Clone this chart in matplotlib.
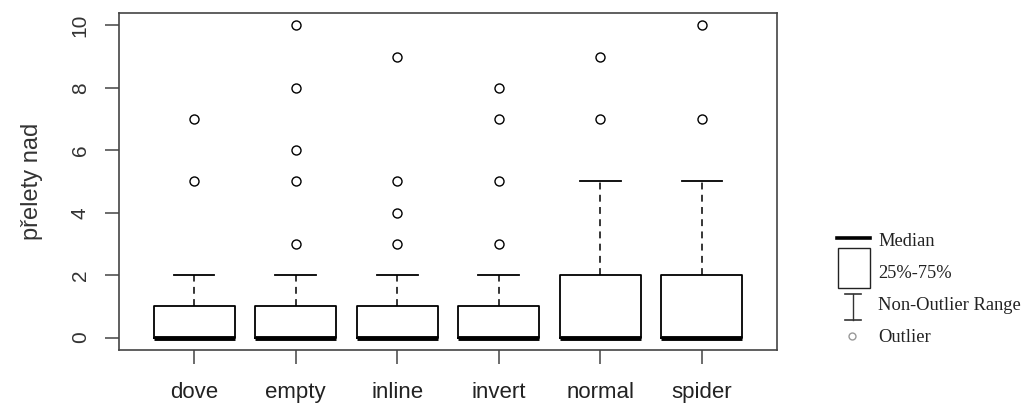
import matplotlib
matplotlib.use("Agg")
import matplotlib.pyplot as plt
from matplotlib.lines import Line2D
from matplotlib.patches import Rectangle

# summary statistics per group (R-style boxplot)
groups = ["dove", "empty", "inline", "invert", "normal", "spider"]
medians = [0, 0, 0, 0, 0, 0]
q1 = [0, 0, 0, 0, 0, 0]
q3 = [1, 1, 1, 1, 2, 2]
whisker_lo = [0, 0, 0, 0, 0, 0]
whisker_hi = [2, 2, 2, 2, 5, 5]
outliers = [
    [5, 7],
    [3, 5, 6, 8, 10],
    [3, 4, 5, 9],
    [3, 5, 7, 8],
    [7, 9],
    [7, 10],
]
y_ticks = [0, 2, 4, 6, 8, 10]

W, H = 1029, 408
fig = plt.figure(figsize=(W / 100, H / 100), dpi=100)
ax = fig.add_axes([119 / W, 1 - 350 / H, (777 - 119) / W, (350 - 13) / H])

stats = []
for i, g in enumerate(groups):
    stats.append(dict(label=g, med=medians[i], q1=q1[i], q3=q3[i],
                      whislo=whisker_lo[i], whishi=whisker_hi[i],
                      fliers=outliers[i]))

ax.bxp(stats, positions=range(1, len(groups) + 1), widths=0.8,
       capwidths=0.4,
       boxprops=dict(color="black", linewidth=1.3),
       medianprops=dict(color="black", linewidth=3.5, solid_capstyle="butt"),
       whiskerprops=dict(color="black", linewidth=1.1, linestyle=(0, (4.5, 3.5))),
       capprops=dict(color="black", linewidth=1.3),
       flierprops=dict(marker="o", markerfacecolor="none", markeredgecolor="black",
                       markersize=6.5, markeredgewidth=1.0))

ax.set_xlim(0.26, 6.74)
ax.set_ylim(-0.4, 10.4)
ax.set_yticks(y_ticks)
ax.set_yticklabels([str(t) for t in y_ticks], rotation=90, va="center",
                   fontsize=15, family="Liberation Sans", color="#333333")
ax.set_xticklabels(groups, fontsize=16, family="Liberation Sans", color="#222222")
ax.tick_params(axis="both", direction="out", length=10, width=1.1, color="#444444")
ax.tick_params(axis="y", pad=11)
ax.tick_params(axis="x", pad=13)
for s in ax.spines.values():
    s.set_color("#444444")
    s.set_linewidth(1.2)
ax.set_ylabel("přelety nad", fontsize=17, family="Liberation Sans",
              color="#333333", labelpad=20)

# legend drawn in pixel coordinates on the right side of the figure
def px(x, y):
    return x / W, 1 - y / H

tr = fig.transFigure
fig.add_artist(Line2D([837 / W, 870 / W], [1 - 238 / H] * 2, color="black",
                      linewidth=2.6, transform=tr))
x0, y0 = px(838, 288)
fig.add_artist(Rectangle((x0, y0), 32 / W, 40 / H, facecolor="white",
                         edgecolor="#222222", linewidth=1.0, transform=tr))
fig.add_artist(Line2D([853 / W] * 2, [1 - 294 / H, 1 - 320 / H],
                      color="#333333", linewidth=1.0, transform=tr))
for yy in (294, 320):
    fig.add_artist(Line2D([845 / W, 861 / W], [1 - yy / H] * 2,
                          color="#333333", linewidth=1.2, transform=tr))
fig.add_artist(Line2D([852 / W], [1 - 336 / H], marker="o", markersize=5,
                      markerfacecolor="none", markeredgecolor="#999999",
                      markeredgewidth=1.0, linestyle="none", transform=tr))

legend_texts = [("Median", 242), ("25%-75%", 273),
                ("Non-Outlier Range", 305), ("Outlier", 337)]
for txt, yy in legend_texts:
    fig.text(878 / W, 1 - yy / H, txt, fontsize=13.3, family="Liberation Serif",
             color="#222222", va="center", ha="left")

fig.savefig("out.png", dpi=100)
